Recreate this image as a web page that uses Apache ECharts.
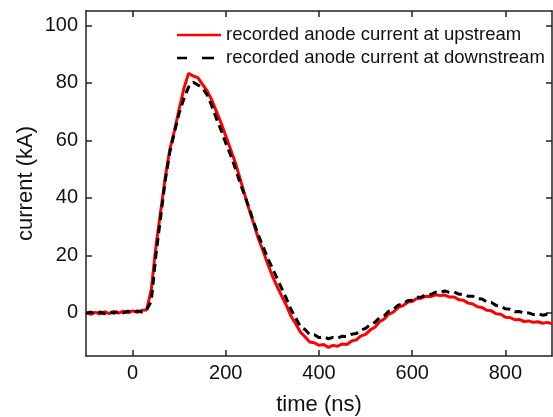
<!DOCTYPE html>
<html>
<head>
<meta charset="utf-8">
<script src="https://cdn.jsdelivr.net/npm/echarts@6/dist/echarts.min.js"></script>
<style>html,body{margin:0;padding:0;background:#fff}#c{width:553px;height:417px}</style>
</head>
<body>
<div id="c"></div>
<script>
// time (ns)
const timeNs = [-100,-90,-80,-70,-60,-50,-40,-30,-20,-10,0,10,20,30,40,50,60,70,80,90,100,110,120,130,140,150,160,170,180,190,200,210,220,230,240,250,260,270,280,290,300,310,320,330,340,350,360,370,380,390,400,410,420,430,440,450,460,470,480,490,500,510,520,530,540,550,560,570,580,590,600,610,620,630,640,650,660,670,680,690,700,710,720,730,740,750,760,770,780,790,800,810,820,830,840,850,860,870,880,890,900];
// recorded anode current at upstream (kA)
const upstream = [0.3,-0.5,0.2,-0.4,0.4,-0.3,0.5,-0.1,0.6,0.0,0.7,0.2,0.9,1.0,8,23,35,47,57,63.5,71,78,83.3,82.4,81.8,79.5,77.2,74,70,66,61.5,57,52.5,47,41.5,36,31,25.8,21.5,17,12.8,9.2,5.8,2.6,-1.2,-3.8,-6.7,-8.3,-10.1,-10.4,-11.3,-11.0,-12.0,-11.3,-11.6,-10.8,-11.0,-9.8,-9.4,-8.0,-7.5,-5.9,-5.0,-3.1,-2.1,-0.4,0.3,1.9,2.5,3.7,4.0,5.0,5.1,5.8,5.7,6.3,6.0,6.2,5.5,5.5,4.6,4.4,3.4,3.1,2.1,1.9,0.9,0.7,-0.3,-0.5,-1.5,-1.6,-2.4,-2.3,-3.0,-2.8,-3.3,-3.1,-3.6,-3.3,-3.8];
// recorded anode current at downstream (kA)
const downstream = [-0.2,0.3,-0.4,0.3,-0.3,0.4,-0.1,0.5,0.0,0.6,0.1,0.7,0.3,1.0,4,20,33,46,56,63,69.5,74.5,78.5,80.2,79.3,78.2,75.8,72,67.5,63.5,59,55,50.5,45.5,41,36.5,31.5,27,23,19,15.5,12,8.5,5,1.2,-1.8,-4.7,-5.8,-7.5,-7.6,-8.6,-8.3,-9.0,-8.5,-8.8,-8.1,-8.2,-7.4,-7.2,-6.0,-5.4,-4.0,-3.3,-1.6,-1.0,0.6,1.3,2.7,3.2,4.2,4.4,5.4,5.5,6.4,6.4,7.2,7.1,7.6,7.1,7.2,6.5,6.5,5.8,5.8,4.9,4.8,3.8,3.6,2.6,2.4,1.4,1.3,0.4,0.5,-0.2,0.0,-0.6,-0.3,-0.8,-0.5,-1.0];
const xTicks = [0,200,400,600,800];
const yTicks = [0,20,40,60,80,100];
const seriesNames = ['recorded anode current at upstream','recorded anode current at downstream'];

const FONT = 'Liberation Sans, Arial, sans-serif';
const frame = {color:'#222', width:1.5};
function pairs(xs, ys){ return xs.map((x,i)=>[x, ys[i]]); }

const chart = echarts.init(document.getElementById('c'), null, {renderer:'canvas'});
chart.setOption({
  animation:false,
  backgroundColor:'#fff',
  grid:{left:86, right:1, top:11, bottom:61, containLabel:false, outerBoundsMode:'none'},
  legend:{
    orient:'vertical', left:177, top:25, padding:0, itemWidth:44, itemHeight:3, itemGap:3,
    textStyle:{fontFamily:FONT, fontSize:18.5, color:'#111', lineHeight:20},
    data:[
      {name:seriesNames[0], icon:'path://M0,0H44V2.5H0Z'},
      {name:seriesNames[1], icon:'path://M44,0M0,0H10V2.5H0ZM25,0H37V2.5H25Z'}
    ]
  },
  xAxis:[{
    type:'value', min:-100, max:900, position:'bottom',
    name:'time (ns)', nameLocation:'middle', nameGap:38, nameMoveOverlap:false,
    nameTextStyle:{fontFamily:FONT, fontSize:22, color:'#111'},
    axisLine:{show:true, onZero:false, lineStyle:frame},
    axisTick:{show:true, inside:true, length:6, lineStyle:frame, customValues:xTicks},
    axisLabel:{fontFamily:FONT, fontSize:20, color:'#111', margin:7, customValues:xTicks},
    splitLine:{show:false}
  },{
    type:'value', min:-100, max:900, position:'top',
    axisLine:{show:true, onZero:false, lineStyle:frame},
    axisTick:{show:true, inside:true, length:6, lineStyle:frame, customValues:xTicks},
    axisLabel:{show:false}, splitLine:{show:false}
  }],
  yAxis:[{
    type:'value', min:-15, max:105, position:'left',
    name:'current (kA)', nameLocation:'middle', nameGap:49, nameRotate:90, nameMoveOverlap:false,
    nameTextStyle:{fontFamily:FONT, fontSize:22, color:'#111'},
    axisLine:{show:true, onZero:false, lineStyle:frame},
    axisTick:{show:true, inside:true, length:6, lineStyle:frame, customValues:yTicks},
    axisLabel:{fontFamily:FONT, fontSize:20, color:'#111', margin:8, customValues:yTicks},
    splitLine:{show:false}
  },{
    type:'value', min:-15, max:105, position:'right',
    axisLine:{show:true, onZero:false, lineStyle:frame},
    axisTick:{show:true, inside:true, length:6, lineStyle:frame, customValues:yTicks},
    axisLabel:{show:false}, splitLine:{show:false}
  }],
  series:[{
    name:seriesNames[0], type:'line', data:pairs(timeNs, upstream),
    symbol:'none', lineStyle:{color:'#ff0000', width:3}, itemStyle:{color:'#ff0000'}
  },{
    name:seriesNames[1], type:'line', data:pairs(timeNs, downstream),
    symbol:'none', lineStyle:{color:'#000', width:3, type:[8,5]}, itemStyle:{color:'#000'}
  }]
});
</script>
</body>
</html>
